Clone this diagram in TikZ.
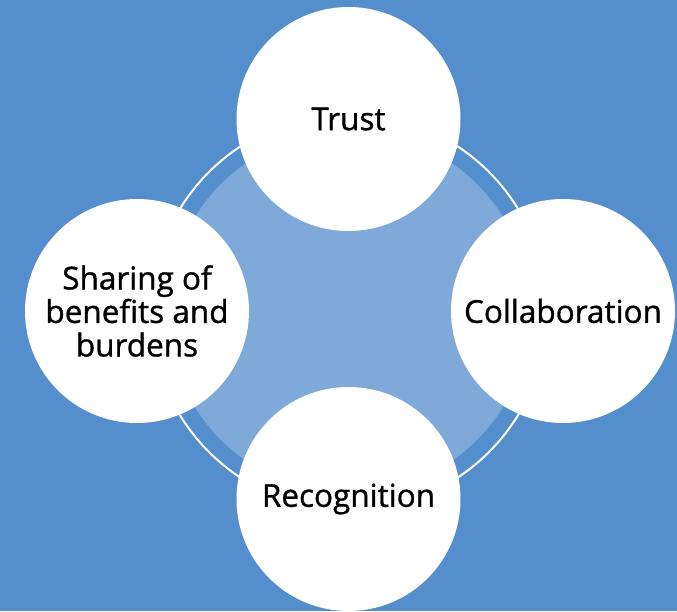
\documentclass[tikz,border=0pt]{standalone}
\usepackage{fontspec}
\setmainfont{Open Sans}[FakeBold=1.0]
\definecolor{panelblue}{RGB}{84,142,204}
\definecolor{hublight}{RGB}{126,169,216}
\begin{document}
\begin{tikzpicture}[x=1pt,y=-1pt,
  bubble/.style={circle, fill=white, minimum size=224pt, inner sep=0pt,
    align=center, text=black, font=\fontsize{31.5}{33.5}\selectfont},
  hubring/.style={circle, fill=panelblue, draw=white, line width=2pt,
    minimum size=396pt, inner sep=0pt},
  hubcore/.style={circle, fill=hublight, minimum size=362pt, inner sep=0pt}]
  % background panel
  \fill[panelblue] (0,0) rectangle (677,611);
  \useasboundingbox (0,0) rectangle (677,611);
  % central hub: outlined ring with lighter core
  \node[hubring] (hub) at (349,312) {};
  \node[hubcore] (core) at (349,312) {};
  % the four bubbles around the hub
  \node[bubble] (trust) at (348.5,119) {Trust};
  \node[bubble] (collab) at (563,311) {Collaboration};
  \node[bubble] (recog) at (348.5,499) {Recognition};
  \node[bubble] (share) at (137,311) {Sharing of\\benefits and\\burdens};
\end{tikzpicture}
\end{document}
